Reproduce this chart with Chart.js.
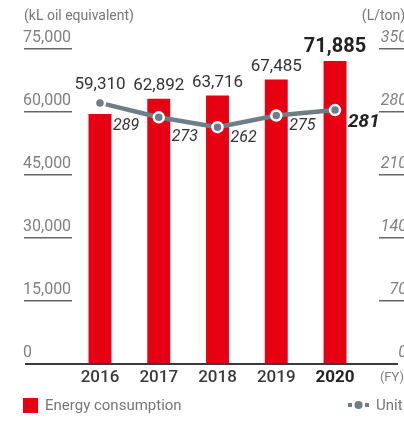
<!DOCTYPE html>
<html lang="en">
<head>
  <meta charset="UTF-8" />
  <title>Energy consumption</title>
  <script src="https://cdn.jsdelivr.net/npm/chart.js"></script>
  <style>
    body {
      margin: 0;
      background: #fff;
    }
    canvas {
      display: block;
    }
  </style>
</head>
<body>
  <canvas id="energyChart" width="404" height="421"></canvas>

  <script>
    // fiscal years and values
    const years = ["2016", "2017", "2018", "2019", "2020"];
    const energy = [59310, 62892, 63716, 67485, 71885];   // kL oil equivalent
    const unitUse = [289, 273, 262, 275, 281];             // L/ton
    const leftTicks = [0, 15000, 30000, 45000, 60000, 75000];
    const rightTicks = [0, 70, 140, 210, 280, 350];

    const RED = "#e60012";
    const GREY_LINE = "#6f7d86";
    const FONT = "Roboto, 'Noto Sans', sans-serif";

    // where the line values sit relative to their points
    const unitLabelDy = [23, 20, 11, 10, 12];

    const fmt = n => n.toLocaleString("en-US");

    const decorations = {
      id: "decorations",
      afterDraw(chart) {
        const ctx = chart.ctx;
        const x = chart.scales.x;
        const yL = chart.scales.y;
        const yR = chart.scales.y1;
        const last = years.length - 1;
        ctx.save();

        // unit captions
        ctx.fillStyle = "#777";
        ctx.font = "14px " + FONT;
        ctx.textBaseline = "middle";
        ctx.textAlign = "left";
        ctx.fillText("(kL oil equivalent)", 24, 16);
        ctx.textAlign = "right";
        ctx.fillText("(L/ton)", 405, 16);

        // left ticks with short underline
        ctx.font = "16px " + FONT;
        ctx.textBaseline = "bottom";
        leftTicks.forEach(v => {
          const py = Math.round(yL.getPixelForValue(v));
          ctx.fillStyle = "#808080";
          ctx.textAlign = "left";
          ctx.fillText(v === 0 ? "0" : fmt(v), 23, py - 2);
          if (v !== 0) {
            ctx.fillStyle = "#666";
            ctx.fillRect(24, py, 48, 1.5);
          }
        });

        // right ticks, italic
        ctx.font = "italic 16px " + FONT;
        rightTicks.forEach(v => {
          const py = Math.round(yR.getPixelForValue(v));
          ctx.fillStyle = "#808080";
          ctx.textAlign = "right";
          ctx.fillText(String(v), 407, py - 2);
          if (v !== 0) {
            ctx.fillStyle = "#666";
            ctx.fillRect(379, py, 26, 1.5);
          }
        });

        // baseline
        const base = Math.round(yL.getPixelForValue(0));
        ctx.fillStyle = "#3a3a3a";
        ctx.fillRect(25, base, 373, 2);

        // year labels
        ctx.textBaseline = "middle";
        ctx.textAlign = "center";
        years.forEach((yr, i) => {
          ctx.fillStyle = i === last ? "#222" : "#3a3a3a";
          ctx.font = (i === last ? "bold " : "500 ") + "17px " + FONT;
          ctx.fillText(yr, x.getPixelForValue(i), 378);
        });
        ctx.fillStyle = "#808080";
        ctx.font = "13px " + FONT;
        ctx.textAlign = "right";
        ctx.fillText("(FY)", 404, 378);

        // bar value labels, lifted clear of the line
        const barMeta = chart.getDatasetMeta(1);
        const lineMeta = chart.getDatasetMeta(0);
        ctx.textAlign = "center";
        energy.forEach((v, i) => {
          const top = Math.min(barMeta.data[i].y, lineMeta.data[i].y - 5);
          ctx.fillStyle = i === last ? "#222" : "#333";
          ctx.font = (i === last ? "bold 20px " : "17px ") + FONT;
          ctx.fillText(fmt(v), barMeta.data[i].x, top - 13 - (i === last ? 1 : 0));
        });

        // line value labels, italic, to the right of each point
        ctx.textAlign = "left";
        unitUse.forEach((v, i) => {
          const p = lineMeta.data[i];
          ctx.fillStyle = i === last ? "#222" : "#333";
          ctx.font = (i === last ? "italic bold 19px " : "italic 16px ") + FONT;
          ctx.fillText(String(v), p.x + 13, p.y + unitLabelDy[i]);
        });

        // legend
        ctx.fillStyle = RED;
        ctx.fillRect(23, 398, 15, 15);
        ctx.fillStyle = "#777";
        ctx.font = "15px " + FONT;
        ctx.fillText("Energy consumption", 45, 406);

        ctx.fillStyle = GREY_LINE;
        ctx.fillRect(348, 403, 4, 4);
        ctx.fillRect(365, 403, 4, 4);
        ctx.beginPath();
        ctx.arc(358.5, 405, 4, 0, Math.PI * 2);
        ctx.fill();
        ctx.fillStyle = "#777";
        ctx.fillText("Unit", 376, 406);

        ctx.restore();
      }
    };

    new Chart(document.getElementById("energyChart"), {
      type: "bar",
      data: {
        labels: years,
        datasets: [
          {
            type: "line",
            label: "Unit",
            data: unitUse,
            yAxisID: "y1",
            borderColor: GREY_LINE,
            borderWidth: 4.5,
            pointRadius: 5,
            pointBorderWidth: 2.5,
            pointBackgroundColor: GREY_LINE,
            pointBorderColor: "#fff",
            tension: 0,
            order: 0
          },
          {
            label: "Energy consumption",
            data: energy,
            yAxisID: "y",
            backgroundColor: RED,
            categoryPercentage: 1,
            barPercentage: 0.39,
            order: 1
          }
        ]
      },
      options: {
        responsive: false,
        animation: false,
        devicePixelRatio: 1,
        layout: {
          padding: { left: 70.6, right: 39.6, top: 48, bottom: 58 }
        },
        scales: {
          x: { display: false, offset: true },
          y: { display: false, min: 0, max: 75000 },
          y1: { display: false, min: 0, max: 350, position: "right" }
        },
        plugins: {
          legend: { display: false },
          tooltip: { enabled: false }
        }
      },
      plugins: [decorations]
    });
  </script>
</body>
</html>
